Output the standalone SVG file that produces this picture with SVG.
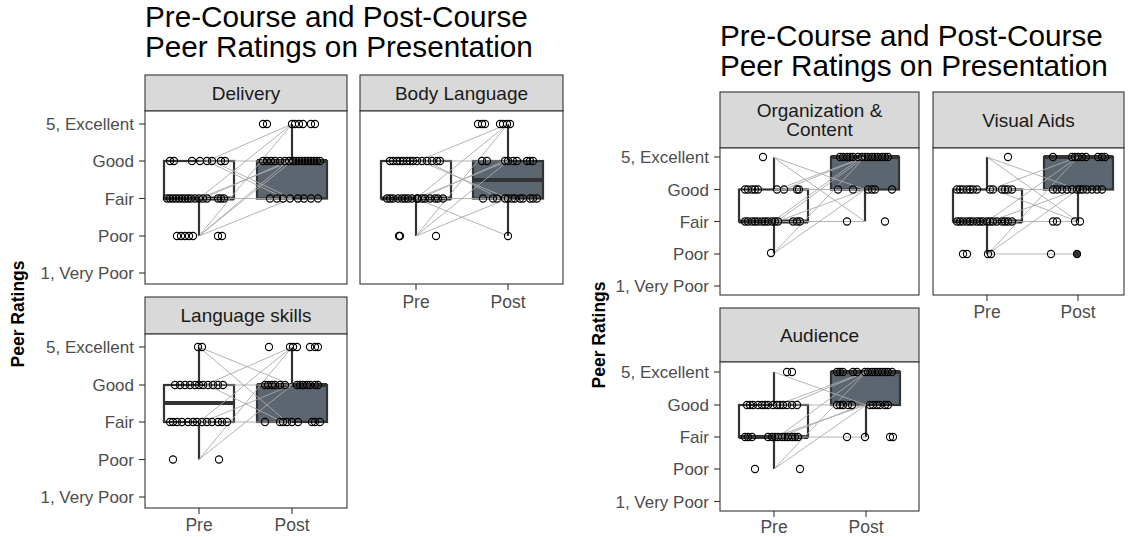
<svg xmlns="http://www.w3.org/2000/svg" width="1129" height="537" viewBox="0 0 1129 537">
<style>
  text { font-family: "Liberation Sans", Arial, sans-serif; }
  .title { font-size: 29.7px; fill: #000; }
  .strip { fill: #d9d9d9; stroke: #333; stroke-width: 1.1; }
  .stript { font-size: 19px; fill: #1a1a1a; text-anchor: middle; }
  .bg { fill: #fff; }
  .border { fill: none; stroke: #333; stroke-width: 1.1; }
  .tick { stroke: #333; stroke-width: 1.1; }
  .ylab { font-size: 17px; fill: #4d4d4d; text-anchor: end; }
  .xlab { font-size: 17.5px; fill: #4d4d4d; text-anchor: middle; }
  .axt { font-size: 17.5px; font-weight: bold; fill: #000; text-anchor: middle; }
  .bpre { fill: #fff; stroke: #333; stroke-width: 2.2; }
  .bpost { fill: #5b6670; stroke: #333; stroke-width: 2.2; }
  .wh { stroke: #333; stroke-width: 2.2; }
  .med { stroke: #333; stroke-width: 4; }
  .pair line { stroke: #aaaaaa; stroke-width: 0.9; }
  .pts circle { fill: none; stroke: #000; stroke-width: 1.1; r: 3.6px; }
</style>

<!-- Left figure -->
<text class="title" x="145" y="27">Pre-Course and Post-Course</text>
<text class="title" x="145" y="57">Peer Ratings on Presentation</text>
<text class="axt" transform="translate(24,314) rotate(-90)">Peer Ratings</text>

<!-- Delivery -->
<g id="delivery">
  <rect class="strip" x="145" y="75" width="202" height="36"/>
  <text class="stript" x="246" y="100">Delivery</text>
  <rect class="bg" x="145" y="111" width="202" height="173"/>
  <line class="wh" x1="199" y1="198.5" x2="199" y2="236"/>
  <rect class="bpre" x="164" y="161" width="70" height="37.5"/>
  <line class="med" x1="164" y1="198.5" x2="234" y2="198.5"/>
  <line class="wh" x1="292" y1="161" x2="292" y2="124"/>
  <rect class="bpost" x="257" y="161" width="70" height="37.5"/>
  <line class="med" x1="257" y1="161" x2="327" y2="161"/>
  <g class="pair">
    <line x1="207" y1="161" x2="292" y2="124"/>
    <line x1="199" y1="198.5" x2="292" y2="124"/>
    <line x1="199" y1="236" x2="292" y2="124"/>
    <line x1="199" y1="236" x2="292" y2="161"/>
    <line x1="199" y1="236" x2="288" y2="161"/>
    <line x1="199" y1="236" x2="292" y2="198.5"/>
    <line x1="199" y1="198.5" x2="292" y2="161"/>
    <line x1="203" y1="198.5" x2="288" y2="161"/>
    <line x1="199" y1="161" x2="292" y2="161"/>
    <line x1="199" y1="198.5" x2="292" y2="198.5"/>
    <line x1="207" y1="161" x2="285" y2="198.5"/>
    <line x1="212" y1="161" x2="292" y2="198.5"/>
  </g>
  <g class="pts">
    <circle r="3.4" cx="170" cy="161"/><circle r="3.4" cx="174" cy="161"/><circle r="3.4" cx="192" cy="161"/><circle r="3.4" cx="200" cy="161"/><circle r="3.4" cx="207" cy="161"/><circle r="3.4" cx="212" cy="161"/><circle r="3.4" cx="221" cy="161"/><circle r="3.4" cx="225" cy="161"/>
    <circle r="3.4" cx="167" cy="198.5"/><circle r="3.4" cx="170" cy="198.5"/><circle r="3.4" cx="173" cy="198.5"/><circle r="3.4" cx="176" cy="198.5"/><circle r="3.4" cx="179" cy="198.5"/><circle r="3.4" cx="182" cy="198.5"/><circle r="3.4" cx="185" cy="198.5"/><circle r="3.4" cx="188" cy="198.5"/><circle r="3.4" cx="191" cy="198.5"/><circle r="3.4" cx="195" cy="198.5"/><circle r="3.4" cx="199" cy="198.5"/><circle r="3.4" cx="203" cy="198.5"/><circle r="3.4" cx="207" cy="198.5"/><circle r="3.4" cx="218" cy="198.5"/><circle r="3.4" cx="221" cy="198.5"/><circle r="3.4" cx="224" cy="198.5"/>
    <circle r="3.4" cx="177" cy="236"/><circle r="3.4" cx="181" cy="236"/><circle r="3.4" cx="185" cy="236"/><circle r="3.4" cx="189" cy="236"/><circle r="3.4" cx="193" cy="236"/><circle r="3.4" cx="218" cy="236"/><circle r="3.4" cx="222" cy="236"/>
    <circle r="3.4" cx="263" cy="124"/><circle r="3.4" cx="267" cy="124"/><circle r="3.4" cx="292" cy="124"/><circle r="3.4" cx="295" cy="124"/><circle r="3.4" cx="299" cy="124"/><circle r="3.4" cx="303" cy="124"/><circle r="3.4" cx="311" cy="124"/><circle r="3.4" cx="315" cy="124"/>
    <circle r="3.4" cx="263" cy="161"/><circle r="3.4" cx="267" cy="161"/><circle r="3.4" cx="271" cy="161"/><circle r="3.4" cx="275" cy="161"/><circle r="3.4" cx="280" cy="161"/><circle r="3.4" cx="285" cy="161"/><circle r="3.4" cx="289" cy="161"/><circle r="3.4" cx="293" cy="161"/><circle r="3.4" cx="296" cy="161"/><circle r="3.4" cx="299" cy="161"/><circle r="3.4" cx="302" cy="161"/><circle r="3.4" cx="305" cy="161"/><circle r="3.4" cx="308" cy="161"/><circle r="3.4" cx="311" cy="161"/><circle r="3.4" cx="314" cy="161"/><circle r="3.4" cx="317" cy="161"/><circle r="3.4" cx="320" cy="161"/>
    <circle r="3.4" cx="270" cy="198.5"/><circle r="3.4" cx="277" cy="198.5"/><circle r="3.4" cx="283" cy="198.5"/><circle r="3.4" cx="290" cy="198.5"/><circle r="3.4" cx="298" cy="198.5"/><circle r="3.4" cx="304" cy="198.5"/><circle r="3.4" cx="311" cy="198.5"/><circle r="3.4" cx="318" cy="198.5"/>
  </g>
  <rect class="border" x="145" y="111" width="202" height="173"/>
  <g class="tick">
    <line x1="139" y1="124" x2="145" y2="124"/><line x1="139" y1="161" x2="145" y2="161"/><line x1="139" y1="198.5" x2="145" y2="198.5"/><line x1="139" y1="236" x2="145" y2="236"/><line x1="139" y1="273" x2="145" y2="273"/>
  </g>
  <text class="ylab" x="134" y="130">5, Excellent</text>
  <text class="ylab" x="134" y="167">Good</text>
  <text class="ylab" x="134" y="204.5">Fair</text>
  <text class="ylab" x="134" y="242">Poor</text>
  <text class="ylab" x="134" y="279">1, Very Poor</text>
</g>

<!-- Body Language -->
<g id="body-language">
  <rect class="strip" x="360" y="75" width="203" height="36"/>
  <text class="stript" x="461.5" y="100">Body Language</text>
  <rect class="bg" x="360" y="111" width="203" height="173"/>
  <line class="wh" x1="416" y1="198.5" x2="416" y2="236"/>
  <rect class="bpre" x="381" y="161" width="70" height="37.5"/>
  <line class="med" x1="381" y1="198.5" x2="451" y2="198.5"/>
  <line class="wh" x1="508" y1="124" x2="508" y2="236"/>
  <rect class="bpost" x="473" y="161" width="70" height="37.5"/>
  <line class="med" x1="473" y1="180" x2="543" y2="180"/>
  <g class="pair">
    <line x1="418" y1="161" x2="508" y2="124"/>
    <line x1="416" y1="198.5" x2="508" y2="124"/>
    <line x1="416" y1="236" x2="508" y2="124"/>
    <line x1="416" y1="236" x2="508" y2="161"/>
    <line x1="416" y1="198.5" x2="508" y2="161"/>
    <line x1="420" y1="198.5" x2="504" y2="161"/>
    <line x1="418" y1="161" x2="508" y2="161"/>
    <line x1="416" y1="198.5" x2="508" y2="198.5"/>
    <line x1="420" y1="161" x2="508" y2="198.5"/>
    <line x1="426" y1="161" x2="500" y2="198.5"/>
    <line x1="416" y1="198.5" x2="508" y2="236"/>
    <line x1="416" y1="236" x2="508" y2="198.5"/>
  </g>
  <g class="pts">
    <circle r="3.4" cx="390" cy="161"/><circle r="3.4" cx="393" cy="161"/><circle r="3.4" cx="397" cy="161"/><circle r="3.4" cx="400" cy="161"/><circle r="3.4" cx="403" cy="161"/><circle r="3.4" cx="407" cy="161"/><circle r="3.4" cx="410" cy="161"/><circle r="3.4" cx="413" cy="161"/><circle r="3.4" cx="417" cy="161"/><circle r="3.4" cx="422" cy="161"/><circle r="3.4" cx="427" cy="161"/><circle r="3.4" cx="432" cy="161"/><circle r="3.4" cx="437" cy="161"/><circle r="3.4" cx="440" cy="161"/>
    <circle r="3.4" cx="387" cy="198.5"/><circle r="3.4" cx="390" cy="198.5"/><circle r="3.4" cx="393" cy="198.5"/><circle r="3.4" cx="398" cy="198.5"/><circle r="3.4" cx="402" cy="198.5"/><circle r="3.4" cx="405" cy="198.5"/><circle r="3.4" cx="408" cy="198.5"/><circle r="3.4" cx="412" cy="198.5"/><circle r="3.4" cx="417" cy="198.5"/><circle r="3.4" cx="418" cy="198.5"/><circle r="3.4" cx="422" cy="198.5"/><circle r="3.4" cx="425" cy="198.5"/><circle r="3.4" cx="430" cy="198.5"/><circle r="3.4" cx="435" cy="198.5"/><circle r="3.4" cx="438" cy="198.5"/><circle r="3.4" cx="443" cy="198.5"/>
    <circle r="3.4" cx="399" cy="236"/><circle r="3.4" cx="400" cy="236"/><circle r="3.4" cx="436" cy="236"/>
    <circle r="3.4" cx="478" cy="124"/><circle r="3.4" cx="482" cy="124"/><circle r="3.4" cx="485" cy="124"/><circle r="3.4" cx="500" cy="124"/><circle r="3.4" cx="503" cy="124"/><circle r="3.4" cx="507" cy="124"/><circle r="3.4" cx="510" cy="124"/>
    <circle r="3.4" cx="482" cy="161"/><circle r="3.4" cx="487" cy="161"/><circle r="3.4" cx="505" cy="161"/><circle r="3.4" cx="508" cy="161"/><circle r="3.4" cx="513" cy="161"/><circle r="3.4" cx="517" cy="161"/><circle r="3.4" cx="527" cy="161"/><circle r="3.4" cx="530" cy="161"/><circle r="3.4" cx="533" cy="161"/>
    <circle r="3.4" cx="483" cy="198.5"/><circle r="3.4" cx="493" cy="198.5"/><circle r="3.4" cx="497" cy="198.5"/><circle r="3.4" cx="505" cy="198.5"/><circle r="3.4" cx="508" cy="198.5"/><circle r="3.4" cx="512" cy="198.5"/><circle r="3.4" cx="515" cy="198.5"/><circle r="3.4" cx="520" cy="198.5"/><circle r="3.4" cx="523" cy="198.5"/><circle r="3.4" cx="530" cy="198.5"/><circle r="3.4" cx="533" cy="198.5"/><circle r="3.4" cx="537" cy="198.5"/>
    <circle r="3.4" cx="508" cy="236"/>
  </g>
  <rect class="border" x="360" y="111" width="203" height="173"/>
  <g class="tick">
    <line x1="416" y1="284" x2="416" y2="290"/><line x1="508" y1="284" x2="508" y2="290"/>
  </g>
  <text class="xlab" x="416" y="308">Pre</text>
  <text class="xlab" x="508" y="308">Post</text>
</g>

<!-- Language skills -->
<g id="language-skills">
  <rect class="strip" x="145" y="297" width="202" height="37"/>
  <text class="stript" x="246" y="322">Language skills</text>
  <rect class="bg" x="145" y="334" width="202" height="174"/>
  <line class="wh" x1="199" y1="347" x2="199" y2="459.5"/>
  <rect class="bpre" x="164" y="385" width="70" height="37"/>
  <line class="med" x1="164" y1="403" x2="234" y2="403"/>
  <line class="wh" x1="292" y1="347" x2="292" y2="385"/>
  <rect class="bpost" x="257" y="385" width="70" height="37"/>
  <line class="med" x1="257" y1="385" x2="327" y2="385"/>
  <g class="pair">
    <line x1="199" y1="347" x2="292" y2="385"/>
    <line x1="199" y1="347" x2="287" y2="422"/>
    <line x1="205" y1="385" x2="292" y2="347"/>
    <line x1="205" y1="385" x2="292" y2="385"/>
    <line x1="207" y1="385" x2="283" y2="422"/>
    <line x1="199" y1="422" x2="292" y2="347"/>
    <line x1="203" y1="422" x2="292" y2="385"/>
    <line x1="199" y1="422" x2="292" y2="422"/>
    <line x1="199" y1="459.5" x2="292" y2="347"/>
    <line x1="199" y1="459.5" x2="292" y2="385"/>
  </g>
  <g class="pts">
    <circle r="3.4" cx="198" cy="347"/><circle r="3.4" cx="202" cy="347"/>
    <circle r="3.4" cx="175" cy="385"/><circle r="3.4" cx="180" cy="385"/><circle r="3.4" cx="185" cy="385"/><circle r="3.4" cx="190" cy="385"/><circle r="3.4" cx="195" cy="385"/><circle r="3.4" cx="199" cy="385"/><circle r="3.4" cx="203" cy="385"/><circle r="3.4" cx="208" cy="385"/><circle r="3.4" cx="213" cy="385"/><circle r="3.4" cx="218" cy="385"/><circle r="3.4" cx="223" cy="385"/>
    <circle r="3.4" cx="170" cy="422"/><circle r="3.4" cx="173" cy="422"/><circle r="3.4" cx="177" cy="422"/><circle r="3.4" cx="182" cy="422"/><circle r="3.4" cx="188" cy="422"/><circle r="3.4" cx="193" cy="422"/><circle r="3.4" cx="197" cy="422"/><circle r="3.4" cx="202" cy="422"/><circle r="3.4" cx="207" cy="422"/><circle r="3.4" cx="212" cy="422"/><circle r="3.4" cx="218" cy="422"/><circle r="3.4" cx="222" cy="422"/><circle r="3.4" cx="227" cy="422"/>
    <circle r="3.4" cx="173" cy="459.5"/><circle r="3.4" cx="219" cy="459.5"/>
    <circle r="3.4" cx="269" cy="347"/><circle r="3.4" cx="290" cy="347"/><circle r="3.4" cx="293" cy="347"/><circle r="3.4" cx="297" cy="347"/><circle r="3.4" cx="310" cy="347"/><circle r="3.4" cx="315" cy="347"/><circle r="3.4" cx="318" cy="347"/>
    <circle r="3.4" cx="265" cy="385"/><circle r="3.4" cx="268" cy="385"/><circle r="3.4" cx="272" cy="385"/><circle r="3.4" cx="275" cy="385"/><circle r="3.4" cx="280" cy="385"/><circle r="3.4" cx="285" cy="385"/><circle r="3.4" cx="297" cy="385"/><circle r="3.4" cx="300" cy="385"/><circle r="3.4" cx="303" cy="385"/><circle r="3.4" cx="307" cy="385"/><circle r="3.4" cx="310" cy="385"/><circle r="3.4" cx="315" cy="385"/><circle r="3.4" cx="318" cy="385"/>
    <circle r="3.4" cx="265" cy="422"/><circle r="3.4" cx="280" cy="422"/><circle r="3.4" cx="283" cy="422"/><circle r="3.4" cx="287" cy="422"/><circle r="3.4" cx="292" cy="422"/><circle r="3.4" cx="298" cy="422"/><circle r="3.4" cx="312" cy="422"/><circle r="3.4" cx="315" cy="422"/><circle r="3.4" cx="320" cy="422"/>
  </g>
  <rect class="border" x="145" y="334" width="202" height="174"/>
  <g class="tick">
    <line x1="139" y1="347" x2="145" y2="347"/><line x1="139" y1="385" x2="145" y2="385"/><line x1="139" y1="422" x2="145" y2="422"/><line x1="139" y1="459.5" x2="145" y2="459.5"/><line x1="139" y1="497" x2="145" y2="497"/>
    <line x1="199" y1="508" x2="199" y2="514"/><line x1="292" y1="508" x2="292" y2="514"/>
  </g>
  <text class="ylab" x="134" y="353">5, Excellent</text>
  <text class="ylab" x="134" y="391">Good</text>
  <text class="ylab" x="134" y="428">Fair</text>
  <text class="ylab" x="134" y="465.5">Poor</text>
  <text class="ylab" x="134" y="503">1, Very Poor</text>
  <text class="xlab" x="199" y="531">Pre</text>
  <text class="xlab" x="292" y="531">Post</text>
</g>

<!-- Right figure -->
<text class="title" x="720" y="46">Pre-Course and Post-Course</text>
<text class="title" x="720" y="76">Peer Ratings on Presentation</text>
<text class="axt" transform="translate(605,335) rotate(-90)">Peer Ratings</text>

<!-- Organization & Content -->
<g id="organization-content">
  <rect class="strip" x="720" y="92" width="199" height="56"/>
  <text class="stript" x="819.5" y="117">Organization &amp;</text>
  <text class="stript" x="819.5" y="136">Content</text>
  <rect class="bg" x="720" y="148" width="199" height="147"/>
  <line class="wh" x1="774" y1="157" x2="774" y2="254"/>
  <rect class="bpre" x="739" y="189.5" width="69" height="32"/>
  <line class="med" x1="739" y1="221.5" x2="808" y2="221.5"/>
  <line class="wh" x1="865" y1="189.5" x2="865" y2="221.5"/>
  <rect class="bpost" x="831" y="157" width="68" height="32.5"/>
  <line class="med" x1="831" y1="157" x2="899" y2="157"/>
  <g class="pair">
    <line x1="773" y1="157" x2="865" y2="189.5"/>
    <line x1="773" y1="157" x2="865" y2="221.5"/>
    <line x1="777" y1="189.5" x2="865" y2="157"/>
    <line x1="784" y1="189.5" x2="865" y2="157"/>
    <line x1="773" y1="189.5" x2="865" y2="189.5"/>
    <line x1="777" y1="221.5" x2="865" y2="157"/>
    <line x1="773" y1="221.5" x2="862" y2="157"/>
    <line x1="777" y1="221.5" x2="865" y2="189.5"/>
    <line x1="773" y1="221.5" x2="865" y2="221.5"/>
    <line x1="773" y1="254" x2="865" y2="157"/>
    <line x1="773" y1="254" x2="865" y2="189.5"/>
  </g>
  <g class="pts">
    <circle r="3.4" cx="763" cy="157"/>
    <circle r="3.4" cx="745" cy="189.5"/><circle r="3.4" cx="748" cy="189.5"/><circle r="3.4" cx="752" cy="189.5"/><circle r="3.4" cx="755" cy="189.5"/><circle r="3.4" cx="758" cy="189.5"/><circle r="3.4" cx="777" cy="189.5"/><circle r="3.4" cx="784" cy="189.5"/><circle r="3.4" cx="797" cy="189.5"/><circle r="3.4" cx="799" cy="189.5"/>
    <circle r="3.4" cx="745" cy="221.5"/><circle r="3.4" cx="748" cy="221.5"/><circle r="3.4" cx="752" cy="221.5"/><circle r="3.4" cx="755" cy="221.5"/><circle r="3.4" cx="758" cy="221.5"/><circle r="3.4" cx="762" cy="221.5"/><circle r="3.4" cx="765" cy="221.5"/><circle r="3.4" cx="768" cy="221.5"/><circle r="3.4" cx="772" cy="221.5"/><circle r="3.4" cx="775" cy="221.5"/><circle r="3.4" cx="778" cy="221.5"/><circle r="3.4" cx="793" cy="221.5"/><circle r="3.4" cx="797" cy="221.5"/><circle r="3.4" cx="800" cy="221.5"/>
    <circle r="3.4" cx="771" cy="253"/>
    <circle r="3.4" cx="840" cy="157"/><circle r="3.4" cx="843" cy="157"/><circle r="3.4" cx="847" cy="157"/><circle r="3.4" cx="850" cy="157"/><circle r="3.4" cx="853" cy="157"/><circle r="3.4" cx="858" cy="157"/><circle r="3.4" cx="862" cy="157"/><circle r="3.4" cx="865" cy="157"/><circle r="3.4" cx="868" cy="157"/><circle r="3.4" cx="872" cy="157"/><circle r="3.4" cx="875" cy="157"/><circle r="3.4" cx="878" cy="157"/><circle r="3.4" cx="882" cy="157"/><circle r="3.4" cx="885" cy="157"/><circle r="3.4" cx="888" cy="157"/>
    <circle r="3.4" cx="838" cy="189.5"/><circle r="3.4" cx="853" cy="189.5"/><circle r="3.4" cx="868" cy="189.5"/><circle r="3.4" cx="872" cy="189.5"/><circle r="3.4" cx="875" cy="189.5"/><circle r="3.4" cx="892" cy="189.5"/>
    <circle r="3.4" cx="847" cy="221.5"/><circle r="3.4" cx="885" cy="221.5"/>
  </g>
  <rect class="border" x="720" y="148" width="199" height="147"/>
  <g class="tick">
    <line x1="714" y1="157" x2="720" y2="157"/><line x1="714" y1="189.5" x2="720" y2="189.5"/><line x1="714" y1="221.5" x2="720" y2="221.5"/><line x1="714" y1="254" x2="720" y2="254"/><line x1="714" y1="286" x2="720" y2="286"/>
  </g>
  <text class="ylab" x="709" y="163">5, Excellent</text>
  <text class="ylab" x="709" y="195.5">Good</text>
  <text class="ylab" x="709" y="227.5">Fair</text>
  <text class="ylab" x="709" y="260">Poor</text>
  <text class="ylab" x="709" y="292">1, Very Poor</text>
</g>

<!-- Visual Aids -->
<g id="visual-aids">
  <rect class="strip" x="933" y="92" width="191" height="56"/>
  <text class="stript" x="1028.5" y="127">Visual Aids</text>
  <rect class="bg" x="933" y="148" width="191" height="147"/>
  <line class="wh" x1="987" y1="157" x2="987" y2="254"/>
  <rect class="bpre" x="953" y="189.5" width="69" height="32"/>
  <line class="med" x1="953" y1="221.5" x2="1022" y2="221.5"/>
  <line class="wh" x1="1078" y1="189.5" x2="1078" y2="221.5"/>
  <rect class="bpost" x="1044" y="157" width="69" height="32.5"/>
  <line class="med" x1="1044" y1="157" x2="1113" y2="157"/>
  <g class="pair">
    <line x1="987" y1="157" x2="1078" y2="189.5"/>
    <line x1="987" y1="157" x2="1078" y2="221.5"/>
    <line x1="990" y1="189.5" x2="1078" y2="157"/>
    <line x1="993" y1="189.5" x2="1078" y2="221.5"/>
    <line x1="987" y1="189.5" x2="1078" y2="189.5"/>
    <line x1="987" y1="221.5" x2="1078" y2="157"/>
    <line x1="990" y1="221.5" x2="1078" y2="189.5"/>
    <line x1="987" y1="221.5" x2="1078" y2="221.5"/>
    <line x1="988" y1="254" x2="1078" y2="157"/>
    <line x1="988" y1="254" x2="1078" y2="189.5"/>
    <line x1="988" y1="254" x2="1078" y2="254"/>
  </g>
  <g class="pts">
    <circle r="3.4" cx="1008" cy="157"/>
    <circle r="3.4" cx="957" cy="189.5"/><circle r="3.4" cx="960" cy="189.5"/><circle r="3.4" cx="963" cy="189.5"/><circle r="3.4" cx="967" cy="189.5"/><circle r="3.4" cx="970" cy="189.5"/><circle r="3.4" cx="973" cy="189.5"/><circle r="3.4" cx="977" cy="189.5"/><circle r="3.4" cx="990" cy="189.5"/><circle r="3.4" cx="993" cy="189.5"/><circle r="3.4" cx="1002" cy="189.5"/><circle r="3.4" cx="1005" cy="189.5"/><circle r="3.4" cx="1008" cy="189.5"/><circle r="3.4" cx="1012" cy="189.5"/>
    <circle r="3.4" cx="957" cy="221.5"/><circle r="3.4" cx="960" cy="221.5"/><circle r="3.4" cx="963" cy="221.5"/><circle r="3.4" cx="967" cy="221.5"/><circle r="3.4" cx="970" cy="221.5"/><circle r="3.4" cx="973" cy="221.5"/><circle r="3.4" cx="977" cy="221.5"/><circle r="3.4" cx="980" cy="221.5"/><circle r="3.4" cx="983" cy="221.5"/><circle r="3.4" cx="987" cy="221.5"/><circle r="3.4" cx="990" cy="221.5"/><circle r="3.4" cx="993" cy="221.5"/><circle r="3.4" cx="997" cy="221.5"/><circle r="3.4" cx="1002" cy="221.5"/><circle r="3.4" cx="1005" cy="221.5"/><circle r="3.4" cx="1008" cy="221.5"/><circle r="3.4" cx="1012" cy="221.5"/>
    <circle r="3.4" cx="963" cy="254"/><circle r="3.4" cx="967" cy="254"/><circle r="3.4" cx="988" cy="254"/><circle r="3.4" cx="991" cy="254"/>
    <circle r="3.4" cx="1053" cy="157"/><circle r="3.4" cx="1072" cy="157"/><circle r="3.4" cx="1075" cy="157"/><circle r="3.4" cx="1078" cy="157"/><circle r="3.4" cx="1082" cy="157"/><circle r="3.4" cx="1086" cy="157"/><circle r="3.4" cx="1098" cy="157"/><circle r="3.4" cx="1102" cy="157"/><circle r="3.4" cx="1105" cy="157"/>
    <circle r="3.4" cx="1053" cy="189.5"/><circle r="3.4" cx="1057" cy="189.5"/><circle r="3.4" cx="1062" cy="189.5"/><circle r="3.4" cx="1067" cy="189.5"/><circle r="3.4" cx="1072" cy="189.5"/><circle r="3.4" cx="1077" cy="189.5"/><circle r="3.4" cx="1080" cy="189.5"/><circle r="3.4" cx="1083" cy="189.5"/><circle r="3.4" cx="1087" cy="189.5"/><circle r="3.4" cx="1092" cy="189.5"/><circle r="3.4" cx="1097" cy="189.5"/><circle r="3.4" cx="1102" cy="189.5"/>
    <circle r="3.4" cx="1053" cy="221.5"/><circle r="3.4" cx="1057" cy="221.5"/><circle r="3.4" cx="1075" cy="221.5"/><circle r="3.4" cx="1080" cy="221.5"/>
    <circle r="3.4" cx="1051" cy="254"/>
    <circle r="3.4" cx="1077" cy="254" style="fill:#333"/>
  </g>
  <rect class="border" x="933" y="148" width="191" height="147"/>
  <g class="tick">
    <line x1="987" y1="295" x2="987" y2="301"/><line x1="1078" y1="295" x2="1078" y2="301"/>
  </g>
  <text class="xlab" x="987" y="318">Pre</text>
  <text class="xlab" x="1078" y="318">Post</text>
</g>

<!-- Audience -->
<g id="audience">
  <rect class="strip" x="720" y="308" width="199" height="54"/>
  <text class="stript" x="819.5" y="342">Audience</text>
  <rect class="bg" x="720" y="362" width="199" height="149"/>
  <line class="wh" x1="774" y1="372" x2="774" y2="469"/>
  <rect class="bpre" x="739" y="405" width="69" height="32"/>
  <line class="med" x1="739" y1="437" x2="808" y2="437"/>
  <line class="wh" x1="866" y1="405" x2="866" y2="437"/>
  <rect class="bpost" x="831" y="372" width="69" height="33"/>
  <line class="med" x1="831" y1="372" x2="900" y2="372"/>
  <g class="pair">
    <line x1="774" y1="372" x2="866" y2="405"/>
    <line x1="777" y1="405" x2="866" y2="372"/>
    <line x1="787" y1="405" x2="866" y2="372"/>
    <line x1="774" y1="405" x2="866" y2="405"/>
    <line x1="778" y1="437" x2="866" y2="372"/>
    <line x1="774" y1="437" x2="866" y2="405"/>
    <line x1="780" y1="437" x2="862" y2="405"/>
    <line x1="774" y1="437" x2="866" y2="437"/>
    <line x1="774" y1="469" x2="866" y2="372"/>
    <line x1="774" y1="469" x2="866" y2="405"/>
  </g>
  <g class="pts">
    <circle r="3.4" cx="787" cy="372"/><circle r="3.4" cx="792" cy="372"/>
    <circle r="3.4" cx="747" cy="405"/><circle r="3.4" cx="750" cy="405"/><circle r="3.4" cx="753" cy="405"/><circle r="3.4" cx="758" cy="405"/><circle r="3.4" cx="762" cy="405"/><circle r="3.4" cx="765" cy="405"/><circle r="3.4" cx="768" cy="405"/><circle r="3.4" cx="773" cy="405"/><circle r="3.4" cx="777" cy="405"/><circle r="3.4" cx="780" cy="405"/><circle r="3.4" cx="783" cy="405"/><circle r="3.4" cx="787" cy="405"/><circle r="3.4" cx="792" cy="405"/><circle r="3.4" cx="797" cy="405"/>
    <circle r="3.4" cx="745" cy="437"/><circle r="3.4" cx="748" cy="437"/><circle r="3.4" cx="752" cy="437"/><circle r="3.4" cx="768" cy="437"/><circle r="3.4" cx="772" cy="437"/><circle r="3.4" cx="775" cy="437"/><circle r="3.4" cx="778" cy="437"/><circle r="3.4" cx="782" cy="437"/><circle r="3.4" cx="785" cy="437"/><circle r="3.4" cx="788" cy="437"/><circle r="3.4" cx="792" cy="437"/><circle r="3.4" cx="795" cy="437"/><circle r="3.4" cx="798" cy="437"/>
    <circle r="3.4" cx="755" cy="469"/><circle r="3.4" cx="800" cy="469"/>
    <circle r="3.4" cx="837" cy="372"/><circle r="3.4" cx="840" cy="372"/><circle r="3.4" cx="843" cy="372"/><circle r="3.4" cx="853" cy="372"/><circle r="3.4" cx="857" cy="372"/><circle r="3.4" cx="865" cy="372"/><circle r="3.4" cx="868" cy="372"/><circle r="3.4" cx="872" cy="372"/><circle r="3.4" cx="875" cy="372"/><circle r="3.4" cx="878" cy="372"/><circle r="3.4" cx="882" cy="372"/><circle r="3.4" cx="885" cy="372"/><circle r="3.4" cx="888" cy="372"/><circle r="3.4" cx="892" cy="372"/>
    <circle r="3.4" cx="837" cy="405"/><circle r="3.4" cx="840" cy="405"/><circle r="3.4" cx="843" cy="405"/><circle r="3.4" cx="848" cy="405"/><circle r="3.4" cx="852" cy="405"/><circle r="3.4" cx="870" cy="405"/><circle r="3.4" cx="873" cy="405"/><circle r="3.4" cx="877" cy="405"/><circle r="3.4" cx="880" cy="405"/><circle r="3.4" cx="885" cy="405"/><circle r="3.4" cx="888" cy="405"/>
    <circle r="3.4" cx="847" cy="437"/><circle r="3.4" cx="865" cy="437"/><circle r="3.4" cx="890" cy="437"/><circle r="3.4" cx="893" cy="437"/>
  </g>
  <rect class="border" x="720" y="362" width="199" height="149"/>
  <g class="tick">
    <line x1="714" y1="372" x2="720" y2="372"/><line x1="714" y1="405" x2="720" y2="405"/><line x1="714" y1="437" x2="720" y2="437"/><line x1="714" y1="469" x2="720" y2="469"/><line x1="714" y1="501.5" x2="720" y2="501.5"/>
    <line x1="774" y1="511" x2="774" y2="517"/><line x1="866" y1="511" x2="866" y2="517"/>
  </g>
  <text class="ylab" x="709" y="378">5, Excellent</text>
  <text class="ylab" x="709" y="411">Good</text>
  <text class="ylab" x="709" y="443">Fair</text>
  <text class="ylab" x="709" y="475">Poor</text>
  <text class="ylab" x="709" y="507.5">1, Very Poor</text>
  <text class="xlab" x="774" y="533">Pre</text>
  <text class="xlab" x="866" y="533">Post</text>
</g>
</svg>
